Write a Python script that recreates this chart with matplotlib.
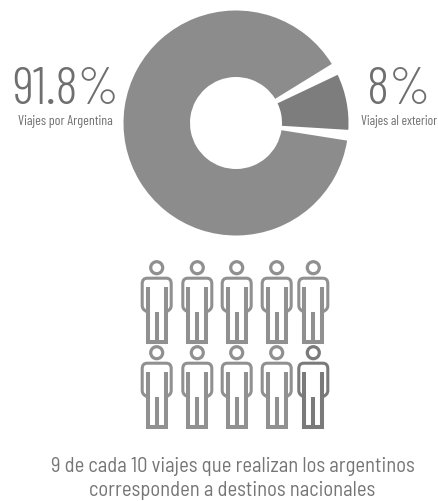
import matplotlib
matplotlib.use("Agg")
import matplotlib.pyplot as plt
from matplotlib.path import Path
from matplotlib.patches import PathPatch, Circle

# Share of trips by destination (percent)
trip_labels = ["Viajes al exterior", "Viajes por Argentina"]
trip_shares = [8, 91.8]
share_texts = ["8%", "91.8%"]

# Ten people: how many stand for domestic trips and how many for trips abroad
domestic_people = 9
abroad_people = 1

caption_lines = [
    "9 de cada 10 viajes que realizan los argentinos",
    "corresponden a destinos nacionales",
]

W, H = 438, 501
GREY = "#8c8c8c"
DARK = "#7d7d7d"
TEXT = "#6f6f6f"
FONT = ["Barlow Condensed", "Liberation Sans"]
CAPTION_FONT = ["Barlow Semi Condensed", "Liberation Sans"]

fig = plt.figure(figsize=(W / 100, H / 100), dpi=100, facecolor="white")
ax = fig.add_axes([0, 0, 1, 1])

# Doughnut, with white gaps cut out of the larger slice
wedges, _ = ax.pie(
    trip_shares,
    colors=[DARK, GREY],
    startangle=-3.5,
    counterclock=True,
    radius=112.5,
    center=(236, H - 123),
    wedgeprops=dict(width=66.5, linewidth=0),
)
wedges[1].set_theta1(wedges[1].theta1 + 6.3)
wedges[1].set_theta2(wedges[1].theta2 - 5.5)

ax.set_xlim(0, W)
ax.set_ylim(0, H)
ax.set_aspect("equal")
ax.axis("off")


def y_px(y):
    return H - y


# Large figures and their captions beside the ring
ax.text(65.5, y_px(104), share_texts[1], ha="center", va="baseline",
        family=FONT, weight=300, fontsize=38, color=TEXT)
ax.text(65.5, y_px(121), trip_labels[1], ha="center", va="center",
        family=FONT, fontsize=10, color=TEXT)
ax.text(399, y_px(104), share_texts[0], ha="center", va="baseline",
        family=FONT, weight=300, fontsize=38, color=TEXT)
ax.text(399, y_px(121), trip_labels[0], ha="center", va="center",
        family=FONT, fontsize=9.7, color=TEXT)


def draw_person(cx, top, color):
    """Outline figure; cx is the body axis, top the centre of the head."""
    ax.add_patch(Circle((cx, y_px(top)), 6.0, fill=False, edgecolor=color, linewidth=2.3))
    pts = [
        (-9, 19), (-9, 74.5), (9, 74.5), (9, 19),
        (0, 44), (0, 74.5),
    ]
    codes = [Path.MOVETO, Path.LINETO, Path.LINETO, Path.LINETO, Path.MOVETO, Path.LINETO]
    verts = [(cx + dx, y_px(top + dy)) for dx, dy in pts]
    ax.add_patch(PathPatch(Path(verts, codes), fill=False, edgecolor=color,
                           linewidth=2.9, capstyle="butt", joinstyle="miter"))
    shoulders = [
        (-9.5, 44), (-14.5, 42), (-14.5, 38), (-14.5, 16),
        (-14.5, 10.5), (-9.5, 10.5), (9.5, 10.5),
        (14.5, 10.5), (14.5, 16), (14.5, 38), (14.5, 42), (9.5, 44),
    ]
    scodes = [Path.MOVETO, Path.CURVE3, Path.CURVE3, Path.LINETO,
              Path.CURVE3, Path.CURVE3, Path.LINETO,
              Path.CURVE3, Path.CURVE3, Path.LINETO, Path.CURVE3, Path.CURVE3]
    sverts = [(cx + dx, y_px(top + dy)) for dx, dy in shoulders]
    ax.add_patch(PathPatch(Path(sverts, scodes), fill=False, edgecolor=color,
                           linewidth=2.2, capstyle="round"))


column_x = [156.7, 197.3, 236.7, 276.7, 313.3]
row_top = [267.7, 352.7]
person_colors = ["#909090"] * domestic_people + ["#7a7a7a"] * abroad_people
for i, color in enumerate(person_colors):
    draw_person(column_x[i % 5], row_top[i // 5], color)

# Closing sentence
for line, y in zip(caption_lines, (467, 490)):
    ax.text(232.5, y_px(y), line, ha="center", va="center",
            family=CAPTION_FONT, fontsize=14.8, color="#757575")

fig.savefig("out.png", dpi=100, facecolor="white")
